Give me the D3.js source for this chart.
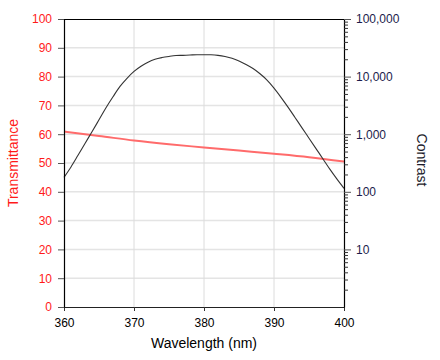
<!DOCTYPE html>
<html><head><meta charset="utf-8">
<script src="https://cdn.jsdelivr.net/npm/d3@7"></script>
<style>
body{margin:0;background:#fff;}
svg{display:block;font-family:Arial,"Liberation Sans",sans-serif;}
</style></head>
<body><svg id="c" width="440" height="360"></svg>
<script>
const wavelengths = d3.range(360, 401, 1);
const contrast = [178, 270, 430, 690, 1100, 1780, 2880, 4470, 6760, 9330,
  12300, 15100, 17800, 20000, 21400, 22400, 23200, 23400, 23700, 24000,
  24000, 23900, 23400, 22400, 20900, 18600, 16200, 13800, 11200, 8710,
  6310, 4370, 2950, 1950, 1290, 851, 562, 372, 245, 166, 115];
const transWl = [360, 365, 370, 375, 380, 385, 390, 395, 400];
const transmittance = [60.9, 59.4, 57.8, 56.5, 55.4, 54.3, 53.2, 52.0, 50.5];
const xTicks = [360, 370, 380, 390, 400];
const leftTicks = d3.range(0, 101, 10);
const rightMajor = [10, 100, 1000, 10000, 100000];

const L = 64, R = 344, T = 19, B = 307;
const svg = d3.select("#c");
const x = d3.scaleLinear().domain([360, 400]).range([L, R]);
const yL = d3.scaleLinear().domain([0, 100]).range([B, T]);
const yR = d3.scaleLog().domain([1, 100000]).range([B, T]);

// grid
svg.append("g").selectAll("line").data(leftTicks.filter(d => d > 0 && d < 100)).join("line")
  .attr("x1", L).attr("x2", R).attr("y1", d => yL(d)).attr("y2", d => yL(d))
  .attr("stroke", "#e4e4e4").attr("stroke-width", 1.5);
svg.append("g").selectAll("line").data(xTicks.filter(d => d > 360 && d < 400)).join("line")
  .attr("y1", T).attr("y2", B).attr("x1", d => x(d)).attr("x2", d => x(d))
  .attr("stroke", "#dcdcdc").attr("stroke-width", 1);

// top frame
svg.append("line").attr("x1", L).attr("x2", R).attr("y1", T + 0.5).attr("y2", T + 0.5)
  .attr("stroke", "#000").attr("stroke-width", 1.2);

// lines
svg.append("path").datum(transWl.map((w, i) => [w, transmittance[i]]))
  .attr("fill", "none").attr("stroke", "#ff6b6b").attr("stroke-width", 2)
  .attr("d", d3.line().x(d => x(d[0])).y(d => yL(d[1])).curve(d3.curveMonotoneX));
svg.append("path").datum(wavelengths.map((w, i) => [w, contrast[i]]))
  .attr("fill", "none").attr("stroke", "#333").attr("stroke-width", 1.1)
  .attr("d", d3.line().x(d => x(d[0])).y(d => yR(d[1])).curve(d3.curveCatmullRom));

// axes
const gx = svg.append("g").attr("transform", `translate(0,${B})`)
  .call(d3.axisBottom(x).tickValues(xTicks).tickSize(4).tickPadding(7).tickSizeOuter(0));
gx.selectAll("text").attr("fill", "#000").style("font-size", "12px");
gx.select(".domain").attr("stroke", "#222").attr("stroke-width", 1.2);
gx.selectAll(".tick line").attr("stroke", "#333");

const gl = svg.append("g").attr("transform", `translate(${L},0)`)
  .call(d3.axisLeft(yL).tickValues(leftTicks).tickSize(6).tickPadding(6).tickSizeOuter(0));
gl.selectAll("text").attr("fill", "#ff1a1a").style("font-size", "12px");
gl.select(".domain").attr("stroke", "#000").attr("stroke-width", 1.2);
gl.selectAll(".tick line").attr("stroke", "#555");

const minor = yR.ticks().filter(d => rightMajor.indexOf(d) < 0 && d > 1);
const grm = svg.append("g").attr("transform", `translate(${R},0)`)
  .call(d3.axisRight(yR).tickValues(minor).tickSize(4).tickFormat("").tickSizeOuter(0));
grm.select(".domain").attr("stroke", "#000").attr("stroke-width", 1.2);
grm.selectAll(".tick line").attr("stroke", "#333");
const gr = svg.append("g").attr("transform", `translate(${R},0)`)
  .call(d3.axisRight(yR).tickValues(rightMajor).tickSize(7).tickPadding(5)
    .tickFormat(d3.format(",")).tickSizeOuter(0));
gr.select(".domain").remove();
gr.selectAll("text").attr("fill", "#1c1c4c").style("font-size", "12px");
gr.selectAll(".tick line").attr("stroke", "#555");

// titles
svg.append("text").attr("x", 204).attr("y", 348).attr("text-anchor", "middle")
  .style("font-size", "14px").attr("fill", "#000").text("Wavelength (nm)");
svg.append("text").attr("transform", "translate(18,163) rotate(-90)").attr("text-anchor", "middle")
  .style("font-size", "14px").attr("fill", "#ff1a1a").text("Transmittance");
svg.append("text").attr("transform", "translate(417,160) rotate(90)").attr("text-anchor", "middle")
  .style("font-size", "14px").attr("fill", "#1c1c2c").text("Contrast");
</script></body></html>
